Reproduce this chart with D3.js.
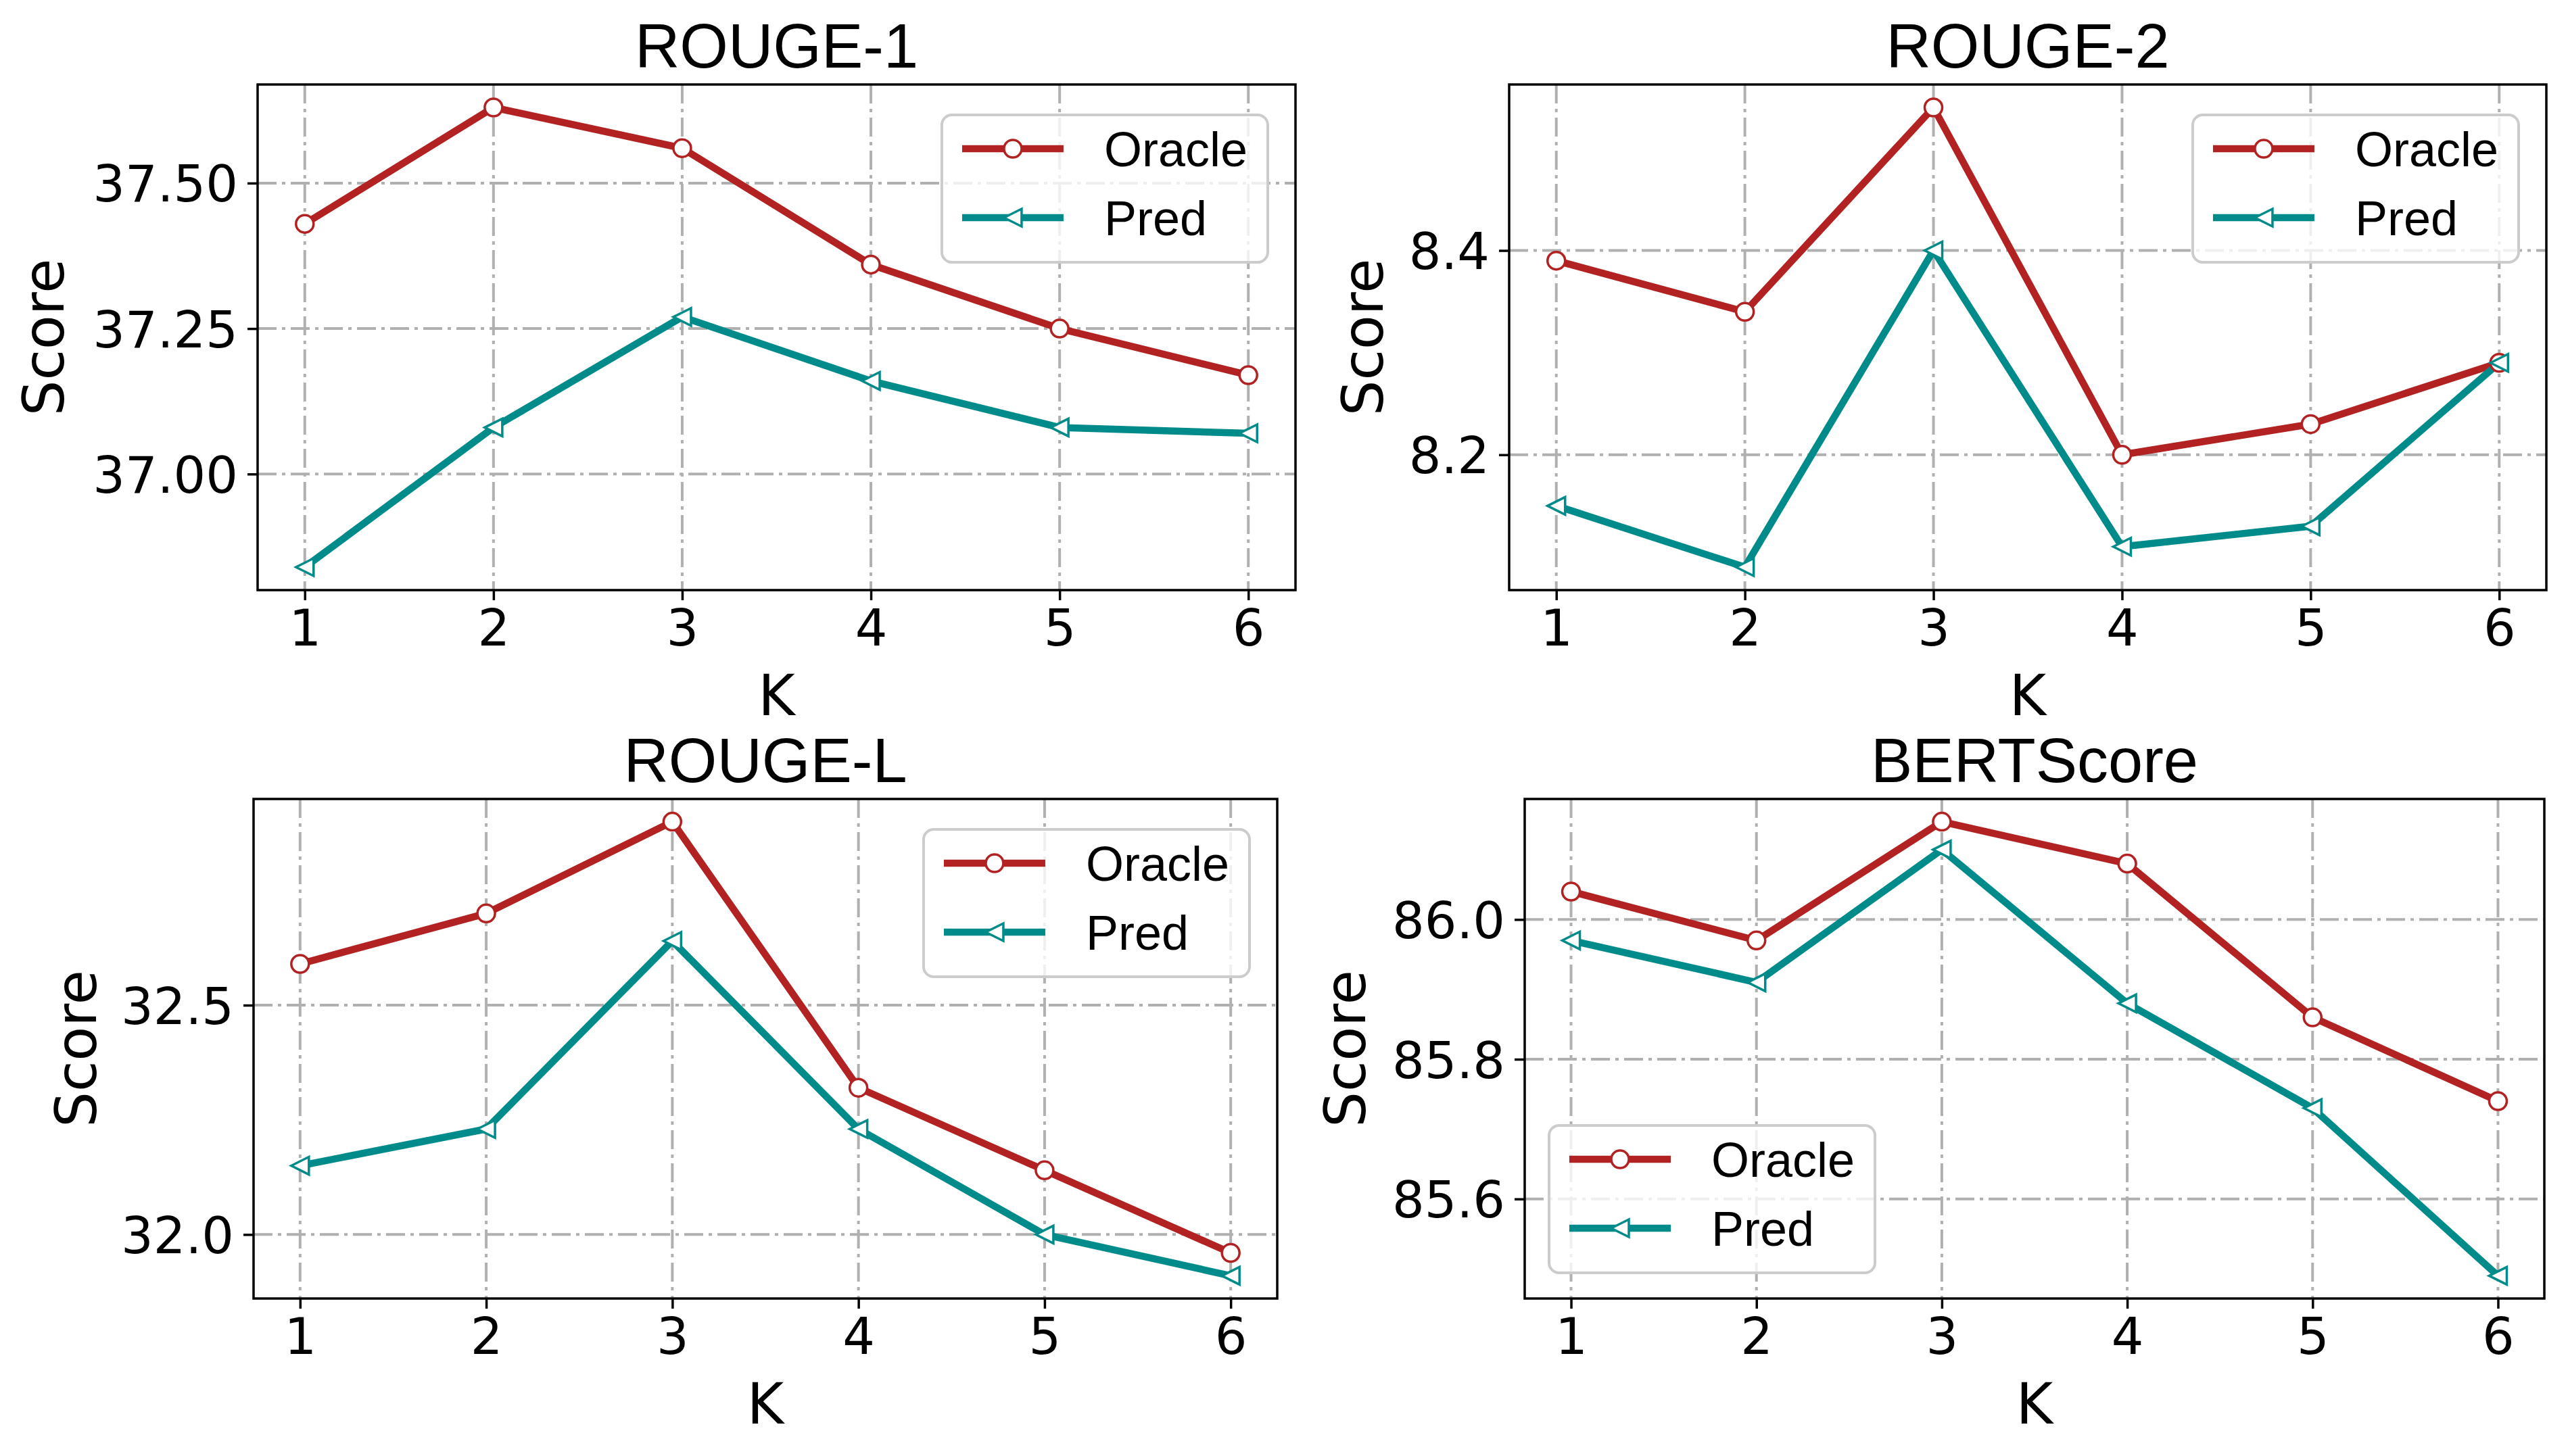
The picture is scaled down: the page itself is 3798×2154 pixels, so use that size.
<!DOCTYPE html>
<html>
<head>
<meta charset="utf-8">
<script src="https://cdn.jsdelivr.net/npm/d3@7"></script>
<style>
  body { margin: 0; background: #fff; }
  svg { display: block; }
</style>
</head>
<body>
<div id="chart"></div>
<script>
// K values on the x axis
const kValues = [1, 2, 3, 4, 5, 6];
const panelTitles = ['ROUGE-1', 'ROUGE-2', 'ROUGE-L', 'BERTScore'];
const seriesNames = ['Oracle', 'Pred'];

// scores
const rouge1Oracle = [37.43, 37.63, 37.56, 37.36, 37.25, 37.17];
const rouge1Pred   = [36.84, 37.08, 37.27, 37.16, 37.08, 37.07];
const rouge2Oracle = [8.39, 8.34, 8.54, 8.20, 8.23, 8.29];
const rouge2Pred   = [8.15, 8.09, 8.40, 8.11, 8.13, 8.29];
const rougeLOracle = [32.59, 32.70, 32.90, 32.32, 32.14, 31.96];
const rougeLPred   = [32.15, 32.23, 32.64, 32.23, 32.00, 31.91];
const bertOracle   = [86.04, 85.97, 86.14, 86.08, 85.86, 85.74];
const bertPred     = [85.97, 85.91, 86.10, 85.88, 85.73, 85.49];

// y tick labels per panel
const rouge1Ticks = [37.00, 37.25, 37.50];
const rouge2Ticks = [8.2, 8.4];
const rougeLTicks = [32.0, 32.5];
const bertTicks   = [85.6, 85.8, 86.0];
const tickFormats = ['.2f', '.1f', '.1f', '.1f'];

const W = 3798, H = 2154;
const colors = {Oracle: '#b22222', Pred: '#008b8b'};

// panel boxes (pixels) + where the y label / legend go
const panels = [
  {left: 381, right: 1916, top: 125, bottom: 873, ylabX: 94, legend: 'ur',
   oracle: rouge1Oracle, pred: rouge1Pred, ticks: rouge1Ticks},
  {left: 2232, right: 3766, top: 125, bottom: 873, ylabX: 2045, legend: 'ur',
   oracle: rouge2Oracle, pred: rouge2Pred, ticks: rouge2Ticks},
  {left: 375, right: 1889, top: 1182, bottom: 1921, ylabX: 142, legend: 'ur',
   oracle: rougeLOracle, pred: rougeLPred, ticks: rougeLTicks},
  {left: 2255, right: 3763, top: 1182, bottom: 1921, ylabX: 2019, legend: 'll',
   oracle: bertOracle, pred: bertPred, ticks: bertTicks}
];

const svg = d3.select('#chart').append('svg')
  .attr('width', W).attr('height', H)
  .attr('viewBox', `0 0 ${W} ${H}`);
svg.append('rect').attr('width', W).attr('height', H).attr('fill', '#fff');

const tickFont = 'DejaVu Sans';
const textFont = 'Liberation Sans, Arial, sans-serif';

function drawMarker(g, name, x, y) {
  if (name === 'Oracle') {
    g.append('circle').attr('cx', x).attr('cy', y).attr('r', 13)
      .attr('fill', '#fff').attr('stroke', colors.Oracle).attr('stroke-width', 3.5);
  } else {
    const s = 13;
    g.append('path')
      .attr('d', `M${x - s},${y} L${x + s},${y - s} L${x + s},${y + s} Z`)
      .attr('fill', '#fff').attr('stroke', colors.Pred).attr('stroke-width', 3.5)
      .attr('stroke-linejoin', 'miter');
  }
}

panels.forEach((p, i) => {
  const w = p.right - p.left, h = p.bottom - p.top;
  const g = svg.append('g').attr('transform', `translate(${p.left},${p.top})`);

  const x = d3.scaleLinear().domain([0.75, 6.25]).range([0, w]);
  const all = p.oracle.concat(p.pred);
  const lo = d3.min(all), hi = d3.max(all), m = (hi - lo) * 0.05;
  const y = d3.scaleLinear().domain([lo - m, hi + m]).range([h, 0]);

  // grid
  const grid = g.append('g').attr('class', 'grid');
  grid.selectAll('line.gx').data(kValues).join('line')
    .attr('x1', d => x(d)).attr('x2', d => x(d)).attr('y1', 0).attr('y2', h);
  grid.selectAll('line.gy').data(p.ticks).join('line')
    .attr('y1', d => y(d)).attr('y2', d => y(d)).attr('x1', 0).attr('x2', w);
  grid.selectAll('line')
    .attr('stroke', '#b0b0b0').attr('stroke-width', 4)
    .attr('stroke-dasharray', '28,8,5,8');

  // series
  const series = [
    {name: 'Oracle', values: p.oracle},
    {name: 'Pred', values: p.pred}
  ];
  const line = d3.line().x((d, j) => x(kValues[j])).y(d => y(d));
  series.forEach(s => {
    g.append('path').datum(s.values)
      .attr('d', line).attr('fill', 'none')
      .attr('stroke', colors[s.name]).attr('stroke-width', 10.5)
      .attr('stroke-linejoin', 'round');
  });
  series.forEach(s => {
    s.values.forEach((v, j) => drawMarker(g, s.name, x(kValues[j]), y(v)));
  });

  // frame
  g.append('rect').attr('width', w).attr('height', h)
    .attr('fill', 'none').attr('stroke', '#000').attr('stroke-width', 3.5);

  // axes
  const xAxis = g.append('g').attr('transform', `translate(0,${h})`)
    .call(d3.axisBottom(x).tickValues(kValues).tickFormat(d3.format('d'))
      .tickSize(15).tickPadding(14));
  const yAxis = g.append('g')
    .call(d3.axisLeft(y).tickValues(p.ticks).tickFormat(d3.format(tickFormats[i]))
      .tickSize(15).tickPadding(14));
  [xAxis, yAxis].forEach(a => {
    a.select('.domain').remove();
    a.selectAll('line').attr('stroke', '#000').attr('stroke-width', 3.5);
    a.selectAll('text').attr('font-family', tickFont).attr('font-size', 75)
      .attr('fill', '#000');
  });
  yAxis.selectAll('text').attr('dy', '0.36em');

  // titles
  svg.append('text')
    .attr('x', (p.left + p.right) / 2).attr('y', p.top - 25)
    .attr('text-anchor', 'middle')
    .attr('font-family', textFont).attr('font-size', 92)
    .text(panelTitles[i]);
  svg.append('text')
    .attr('x', (p.left + p.right) / 2).attr('y', p.bottom + 185)
    .attr('text-anchor', 'middle')
    .attr('font-family', tickFont).attr('font-size', 83)
    .text('K');
  svg.append('text')
    .attr('transform', `translate(${p.ylabX},${(p.top + p.bottom) / 2}) rotate(-90)`)
    .attr('text-anchor', 'middle')
    .attr('font-family', tickFont).attr('font-size', 83)
    .text('Score');

  // legend
  const leg = g.append('g');
  const box = leg.append('rect');
  const labels = seriesNames.map((name, j) => leg.append('text')
    .attr('x', 240).attr('y', 50 + j * 102 + 26)
    .attr('font-family', textFont).attr('font-size', 72)
    .text(name));
  const tw = d3.max(labels, t => t.node().getComputedTextLength());
  const lw = 240 + tw + 30, lh = 218;
  box.attr('width', lw).attr('height', lh).attr('rx', 15)
    .attr('fill', 'rgba(255,255,255,0.8)')
    .attr('stroke', '#cccccc').attr('stroke-width', 4);
  seriesNames.forEach((name, j) => {
    const cy = 50 + j * 102;
    leg.insert('line', 'text').attr('x1', 30).attr('x2', 180).attr('y1', cy).attr('y2', cy)
      .attr('stroke', colors[name]).attr('stroke-width', 10.5);
  });
  const mg = leg.append('g');
  seriesNames.forEach((name, j) => drawMarker(mg, name, 105, 50 + j * 102));
  if (p.legend === 'ur') {
    leg.attr('transform', `translate(${w - 41 - lw},${45})`);
  } else {
    leg.attr('transform', `translate(${36},${h - 38 - lh})`);
  }
});
</script>
</body>
</html>
